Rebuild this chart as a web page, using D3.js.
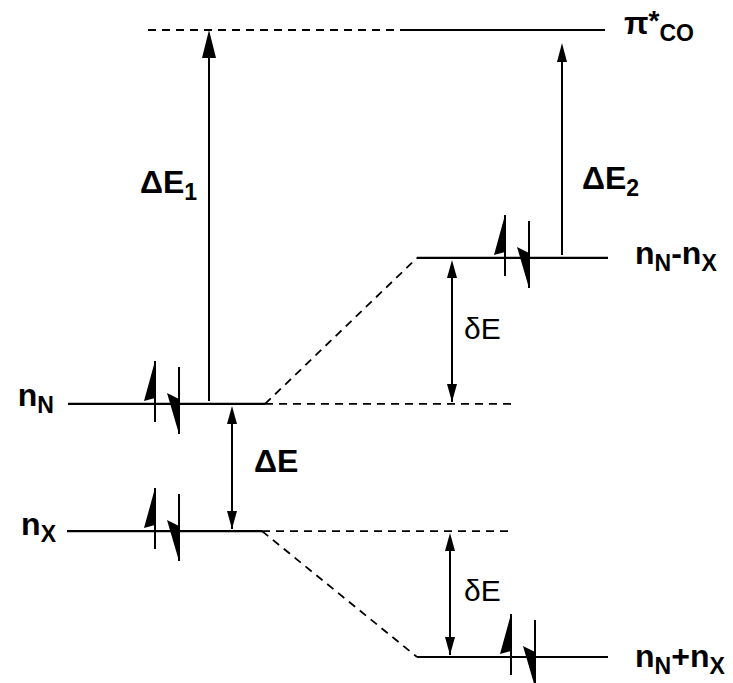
<!DOCTYPE html>
<html>
<head>
<meta charset="utf-8">
<script src="https://cdn.jsdelivr.net/npm/d3@7"></script>
<style>
body { margin: 0; background: #fff; }
text { font-family: "Liberation Sans", Arial, sans-serif; fill: #000; }
</style>
</head>
<body>
<div id="diagram"></div>
<script>
// orbital levels, energies in arbitrary units
var levelNames = ["nN", "nX", "nN-nX", "nN+nX", "piCO"];
var levelLabels = ["n_{N}", "n_{X}", "n_{N}-n_{X}", "n_{N}+n_{X}", "π^{*}_{CO}"];
var levelEnergies = [-0.49, -1.5, 0.67, -2.5, 2.48];
var levelElectrons = [2, 2, 2, 2, 0];

// which fragment level mixes into which combined level
var mixFrom = ["nN", "nX"];
var mixTo = ["nN-nX", "nN+nX"];

// energy gaps drawn as arrows
var gapLabels = ["ΔE_{1}", "ΔE_{2}", "ΔE", "δE", "δE"];
var gapLow = ["nN", "nN-nX", "nX", "nN", "nN+nX"];
var gapHigh = ["piCO", "piCO", "nN", "nN-nX", "nX"];
var gapKinds = ["excitation", "excitation", "gap", "gap", "gap"];

var svgWidth = 733;
var svgHeight = 683;

var svg = d3.select("#diagram")
  .append("svg")
  .attr("width", svgWidth)
  .attr("height", svgHeight);

var yScale = d3.scaleLinear()
  .domain(d3.extent(levelEnergies))
  .range([657, 30]);

// layout, per level
var layout = {
  "nN":    { x: [68, 265], guide: [265, 512], ex: 155, label: [54, 2, "end"] },
  "nX":    { x: [67, 262], guide: [262, 512], ex: 155, label: [56, 4, "end"] },
  "nN-nX": { x: [417, 608], ex: 505, label: [635, 6, "start"] },
  "nN+nX": { x: [417, 608], ex: 511, label: [635, 10, "start"] },
  "piCO":  { x: [407, 605], guide: [148, 407], label: [624, 4, "start"] }
};

var gapLayout = [
  { x: 209, tipGap: 0, head: [28, 7], text: [140, 193], bold: true },
  { x: 562, tipGap: 13, head: [19, 5], text: [582, 189], bold: true },
  { x: 232, tipGap: 2, head: [18, 5], text: [254, 472], bold: true },
  { x: 452, tipGap: 2, head: [18, 5], text: [464, 339], bold: false },
  { x: 450, tipGap: 2, head: [18, 5], text: [464, 601], bold: false }
];

var levels = levelNames.map(function(name, i) {
  return {
    name: name,
    label: levelLabels[i],
    energy: levelEnergies[i],
    electrons: levelElectrons[i],
    pos: layout[name]
  };
});
var byName = {};
levels.forEach(function(d) { byName[d.name] = d; });

function levelY(name) { return yScale(byName[name].energy); }

// text with _{sub} and ^{sup} parts
function richText(sel, str, size, bold) {
  var parts = str.split(/(_\{[^}]*\}|\^\{[^}]*\})/).filter(function(s) { return s.length; });
  var shift = 0;
  parts.forEach(function(p) {
    var t = p, target = 0, fs = size;
    if (p[0] === "_") { t = p.slice(2, -1); target = 7; fs = size * 0.72; }
    else if (p[0] === "^") { t = p.slice(2, -1); target = -4; fs = size * 0.88; }
    sel.append("tspan")
      .attr("dy", target - shift)
      .attr("font-size", fs)
      .attr("font-weight", bold ? "bold" : "normal")
      .text(t);
    shift = target;
  });
}

var g = svg.append("g");

// dashed guides and correlation lines
levels.filter(function(d) { return d.pos.guide; }).forEach(function(d) {
  g.append("line")
    .attr("x1", d.pos.guide[0]).attr("x2", d.pos.guide[1])
    .attr("y1", yScale(d.energy)).attr("y2", yScale(d.energy))
    .attr("stroke", "#000").attr("stroke-width", 1.8)
    .attr("stroke-dasharray", "8,6");
});

mixFrom.forEach(function(from, i) {
  var a = byName[from], b = byName[mixTo[i]];
  g.append("line")
    .attr("x1", a.pos.x[1]).attr("y1", yScale(a.energy))
    .attr("x2", b.pos.x[0]).attr("y2", yScale(b.energy))
    .attr("stroke", "#000").attr("stroke-width", 1.8)
    .attr("stroke-dasharray", "8,6");
});

// levels
g.selectAll(".level")
  .data(levels)
  .enter()
  .append("line")
  .attr("class", "level")
  .attr("x1", function(d) { return d.pos.x[0]; })
  .attr("x2", function(d) { return d.pos.x[1]; })
  .attr("y1", function(d) { return yScale(d.energy); })
  .attr("y2", function(d) { return yScale(d.energy); })
  .attr("stroke", "#000")
  .attr("stroke-width", 2.2);

// electron pairs, half arrows
var line = d3.line();
levels.filter(function(d) { return d.electrons > 0; }).forEach(function(d) {
  var L = yScale(d.energy), x0 = d.pos.ex, x1 = x0 + 24;
  g.append("line")
    .attr("x1", x0).attr("x2", x0).attr("y1", L - 43).attr("y2", L + 18)
    .attr("stroke", "#000").attr("stroke-width", 2);
  g.append("path")
    .attr("d", line([[x0, L - 43], [x0 - 11, L - 3], [x0, L - 6]]) + "Z")
    .attr("fill", "#000");
  if (d.electrons > 1) {
    g.append("line")
      .attr("x1", x1).attr("x2", x1).attr("y1", L - 37).attr("y2", L + 30)
      .attr("stroke", "#000").attr("stroke-width", 2);
    g.append("path")
      .attr("d", line([[x1 - 12, L - 11], [x1, L - 5], [x1, L + 30]]) + "Z")
      .attr("fill", "#000");
  }
});

// gap arrows
function head(x, tip, dir, size) {
  var len = size[0], hw = size[1];
  return line([[x, tip], [x - hw, tip + dir * len], [x + hw, tip + dir * len]]) + "Z";
}

gapLabels.forEach(function(label, i) {
  var lay = gapLayout[i];
  var yLow = levelY(gapLow[i]);
  var yHigh = levelY(gapHigh[i]) + lay.tipGap;
  var bottom = gapKinds[i] === "gap" ? yLow - 2 : yLow - 3;
  g.append("line")
    .attr("x1", lay.x).attr("x2", lay.x)
    .attr("y1", bottom).attr("y2", yHigh + 4)
    .attr("stroke", "#000").attr("stroke-width", 2);
  g.append("path").attr("d", head(lay.x, yHigh, 1, lay.head)).attr("fill", "#000");
  if (gapKinds[i] === "gap") {
    g.append("path").attr("d", head(lay.x, bottom, -1, lay.head)).attr("fill", "#000");
  }
  var t = g.append("text")
    .attr("x", lay.text[0])
    .attr("y", lay.text[1]);
  richText(t, label, lay.bold ? 32 : 30, lay.bold);
});

// level labels
levels.forEach(function(d) {
  var t = g.append("text")
    .attr("x", d.pos.label[0])
    .attr("y", yScale(d.energy) + d.pos.label[1])
    .attr("text-anchor", d.pos.label[2]);
  richText(t, d.label, 32, true);
});
</script>
</body>
</html>
